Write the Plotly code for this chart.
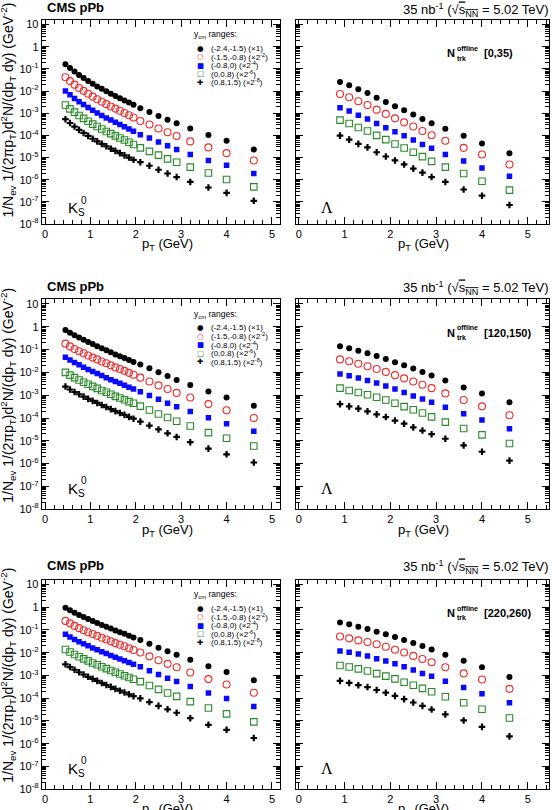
import plotly.graph_objects as go

# ---------------- data ----------------
pt_k0s = [0.45, 0.55, 0.65, 0.75, 0.85, 0.95, 1.05, 1.15, 1.25, 1.35, 1.45, 1.55, 1.65,
          1.75, 1.85, 1.95, 2.1, 2.3, 2.5, 2.7, 2.9, 3.2, 3.6, 4.0, 4.6]
pt_lam = [0.9, 1.1, 1.3, 1.5, 1.7, 1.9, 2.1, 2.3, 2.5, 2.7, 2.9, 3.2, 3.6, 4.0, 4.6]

mult_bins = ["[0,35)", "[120,150)", "[220,260)"]
rap_bins = ["(-2.4,-1.5) (×1)", "(-1.5,-0.8) (×2<sup>-2</sup>)", "(-0.8,0) (×2<sup>-4</sup>)",
            "(0,0.8) (×2<sup>-6</sup>)", "(0.8,1.5) (×2<sup>-8</sup>)"]
ytick_vals = [1e-8, 1e-7, 1e-6, 1e-5, 1e-4, 1e-3, 1e-2, 1e-1, 1, 10]
ytick_text = ["10<sup>-8</sup>", "10<sup>-7</sup>", "10<sup>-6</sup>", "10<sup>-5</sup>",
              "10<sup>-4</sup>", "10<sup>-3</sup>", "10<sup>-2</sup>", "10<sup>-1</sup>", "1", "10"]

# K0s, N_trk [0,35)
k0s_m1_y1 = [1.62e-1, 1.10e-1, 7.59e-2, 5.37e-2, 3.89e-2, 2.88e-2, 2.14e-2, 1.62e-2, 1.26e-2, 9.77e-3, 7.59e-3, 6.03e-3, 4.79e-3, 3.80e-3, 3.02e-3, 2.40e-3, 1.66e-3, 1.15e-3, 7.59e-4, 5.13e-4, 3.55e-4, 2.04e-4, 1.05e-4, 5.75e-5, 2.29e-5]
k0s_m1_y2 = [4.17e-2, 2.82e-2, 1.95e-2, 1.38e-2, 1.02e-2, 7.59e-3, 5.62e-3, 4.27e-3, 3.31e-3, 2.57e-3, 2.00e-3, 1.62e-3, 1.29e-3, 1.02e-3, 8.13e-4, 6.46e-4, 4.47e-4, 3.09e-4, 2.04e-4, 1.38e-4, 9.33e-5, 5.37e-5, 2.88e-5, 1.58e-5, 7.41e-6]
k0s_m1_y3 = [1.00e-2, 6.76e-3, 4.68e-3, 3.31e-3, 2.45e-3, 1.82e-3, 1.35e-3, 1.02e-3, 7.94e-4, 6.17e-4, 4.90e-4, 3.89e-4, 3.09e-4, 2.45e-4, 1.95e-4, 1.55e-4, 1.07e-4, 7.59e-5, 5.01e-5, 3.39e-5, 2.34e-5, 1.38e-5, 7.41e-6, 4.47e-6, 1.91e-6]
k0s_m1_y4 = [2.34e-3, 1.58e-3, 1.12e-3, 7.94e-4, 5.89e-4, 4.37e-4, 3.24e-4, 2.51e-4, 1.95e-4, 1.51e-4, 1.20e-4, 9.55e-5, 7.59e-5, 6.17e-5, 4.90e-5, 3.89e-5, 2.75e-5, 1.91e-5, 1.29e-5, 8.71e-6, 6.17e-6, 3.72e-6, 2.00e-6, 1.02e-6, 4.79e-7]
k0s_m1_y5 = [5.37e-4, 3.63e-4, 2.51e-4, 1.78e-4, 1.29e-4, 9.55e-5, 7.08e-5, 5.37e-5, 4.17e-5, 3.24e-5, 2.51e-5, 2.00e-5, 1.58e-5, 1.26e-5, 1.00e-5, 7.94e-6, 6.17e-6, 4.27e-6, 2.82e-6, 1.91e-6, 1.32e-6, 7.94e-7, 4.47e-7, 2.57e-7, 1.12e-7]

# K0s, N_trk [120,150)
k0s_m2_y1 = [7.24e-1, 5.50e-1, 4.27e-1, 3.39e-1, 2.69e-1, 2.14e-1, 1.74e-1, 1.41e-1, 1.15e-1, 9.33e-2, 7.59e-2, 6.17e-2, 5.13e-2, 4.27e-2, 3.47e-2, 2.88e-2, 2.24e-2, 1.51e-2, 1.02e-2, 6.92e-3, 4.68e-3, 2.82e-3, 1.45e-3, 7.94e-4, 3.47e-4]
k0s_m2_y2 = [1.82e-1, 1.38e-1, 1.07e-1, 8.51e-2, 6.92e-2, 5.50e-2, 4.47e-2, 3.72e-2, 3.02e-2, 2.51e-2, 2.04e-2, 1.66e-2, 1.41e-2, 1.17e-2, 9.55e-3, 7.94e-3, 5.89e-3, 3.98e-3, 2.69e-3, 1.86e-3, 1.26e-3, 7.94e-4, 4.07e-4, 2.19e-4, 1.00e-4]
k0s_m2_y3 = [4.57e-2, 3.47e-2, 2.69e-2, 2.14e-2, 1.70e-2, 1.35e-2, 1.10e-2, 8.91e-3, 7.24e-3, 5.89e-3, 4.79e-3, 3.98e-3, 3.31e-3, 2.75e-3, 2.24e-3, 1.86e-3, 1.41e-3, 9.77e-4, 6.61e-4, 4.47e-4, 3.09e-4, 1.95e-4, 1.02e-4, 5.62e-5, 2.63e-5]
k0s_m2_y4 = [1.00e-2, 7.59e-3, 5.89e-3, 4.68e-3, 3.72e-3, 3.02e-3, 2.45e-3, 2.00e-3, 1.62e-3, 1.35e-3, 1.10e-3, 8.91e-4, 7.59e-4, 6.31e-4, 5.25e-4, 4.47e-4, 3.31e-4, 2.24e-4, 1.51e-4, 1.05e-4, 7.24e-5, 4.47e-5, 2.29e-5, 1.29e-5, 5.89e-6]
k0s_m2_y5 = [2.40e-3, 1.78e-3, 1.38e-3, 1.10e-3, 8.71e-4, 6.92e-4, 5.62e-4, 4.57e-4, 3.72e-4, 3.02e-4, 2.45e-4, 2.00e-4, 1.66e-4, 1.38e-4, 1.12e-4, 9.33e-5, 6.92e-5, 4.68e-5, 3.16e-5, 2.14e-5, 1.48e-5, 8.71e-6, 4.57e-6, 2.57e-6, 1.12e-6]

# K0s, N_trk [220,260)
k0s_m3_y1 = [9.55e-1, 7.41e-1, 5.75e-1, 4.57e-1, 3.72e-1, 3.02e-1, 2.45e-1, 2.04e-1, 1.66e-1, 1.38e-1, 1.15e-1, 9.55e-2, 7.94e-2, 6.76e-2, 5.62e-2, 4.68e-2, 3.63e-2, 2.45e-2, 1.66e-2, 1.15e-2, 8.13e-3, 4.90e-3, 2.51e-3, 1.41e-3, 6.17e-4]
k0s_m3_y2 = [2.51e-1, 1.95e-1, 1.51e-1, 1.20e-1, 9.77e-2, 7.94e-2, 6.61e-2, 5.50e-2, 4.57e-2, 3.80e-2, 3.16e-2, 2.63e-2, 2.24e-2, 1.91e-2, 1.58e-2, 1.32e-2, 1.02e-2, 6.92e-3, 4.68e-3, 3.24e-3, 2.29e-3, 1.35e-3, 6.92e-4, 3.98e-4, 1.74e-4]
k0s_m3_y3 = [6.46e-2, 4.90e-2, 3.80e-2, 3.02e-2, 2.45e-2, 2.00e-2, 1.62e-2, 1.35e-2, 1.10e-2, 9.12e-3, 7.59e-3, 6.31e-3, 5.25e-3, 4.47e-3, 3.72e-3, 3.09e-3, 2.40e-3, 1.62e-3, 1.10e-3, 7.59e-4, 5.37e-4, 3.24e-4, 1.70e-4, 9.77e-5, 4.27e-5]
k0s_m3_y4 = [1.38e-2, 1.07e-2, 8.32e-3, 6.61e-3, 5.37e-3, 4.37e-3, 3.55e-3, 2.95e-3, 2.40e-3, 2.00e-3, 1.66e-3, 1.38e-3, 1.15e-3, 9.77e-4, 8.13e-4, 6.76e-4, 5.37e-4, 3.63e-4, 2.45e-4, 1.70e-4, 1.20e-4, 7.08e-5, 3.72e-5, 2.04e-5, 9.12e-6]
k0s_m3_y5 = [3.09e-3, 2.34e-3, 1.78e-3, 1.38e-3, 1.10e-3, 8.71e-4, 7.08e-4, 5.75e-4, 4.68e-4, 3.80e-4, 3.16e-4, 2.57e-4, 2.14e-4, 1.78e-4, 1.48e-4, 1.23e-4, 9.77e-5, 6.76e-5, 4.57e-5, 3.24e-5, 2.29e-5, 1.32e-5, 6.76e-6, 4.07e-6, 1.78e-6]

# Lambda, N_trk [0,35)
lam_m1_y1 = [2.57e-2, 1.82e-2, 1.20e-2, 8.13e-3, 5.01e-3, 3.24e-3, 2.04e-3, 1.35e-3, 8.71e-4, 5.50e-4, 3.55e-4, 2.00e-4, 9.77e-5, 4.37e-5, 1.58e-5]
lam_m1_y2 = [7.41e-3, 5.25e-3, 3.47e-3, 2.34e-3, 1.45e-3, 9.33e-4, 5.89e-4, 3.89e-4, 2.51e-4, 1.58e-4, 1.02e-4, 5.75e-5, 2.75e-5, 1.38e-5, 4.90e-6]
lam_m1_y3 = [1.78e-3, 1.26e-3, 8.13e-4, 5.50e-4, 3.47e-4, 2.19e-4, 1.45e-4, 9.55e-5, 6.17e-5, 3.89e-5, 2.63e-5, 1.38e-5, 6.92e-6, 3.39e-6, 1.45e-6]
lam_m1_y4 = [4.90e-4, 3.47e-4, 2.29e-4, 1.58e-4, 1.00e-4, 6.46e-5, 4.07e-5, 2.69e-5, 1.74e-5, 1.10e-5, 6.76e-6, 3.72e-6, 1.91e-6, 8.51e-7, 3.39e-7]
lam_m1_y5 = [9.77e-5, 6.46e-5, 4.17e-5, 2.88e-5, 1.74e-5, 1.12e-5, 7.41e-6, 4.90e-6, 3.16e-6, 2.09e-6, 1.32e-6, 7.94e-7, 3.63e-7, 1.91e-7, 7.24e-8]

# Lambda, N_trk [120,150)
lam_m2_y1 = [1.41e-1, 1.15e-1, 8.91e-2, 6.92e-2, 5.25e-2, 3.89e-2, 2.82e-2, 2.04e-2, 1.48e-2, 1.05e-2, 7.41e-3, 4.37e-3, 2.19e-3, 1.20e-3, 4.90e-4]
lam_m2_y2 = [3.72e-2, 3.09e-2, 2.40e-2, 1.86e-2, 1.41e-2, 1.05e-2, 7.59e-3, 5.50e-3, 3.98e-3, 2.88e-3, 2.04e-3, 1.20e-3, 6.17e-4, 3.24e-4, 1.32e-4]
lam_m2_y3 = [8.51e-3, 7.08e-3, 5.75e-3, 4.37e-3, 3.39e-3, 2.51e-3, 1.86e-3, 1.32e-3, 9.33e-4, 6.76e-4, 4.90e-4, 2.95e-4, 1.55e-4, 8.13e-5, 3.39e-5]
lam_m2_y4 = [2.04e-3, 1.62e-3, 1.32e-3, 1.05e-3, 8.13e-4, 6.17e-4, 4.47e-4, 3.16e-4, 2.29e-4, 1.66e-4, 1.12e-4, 6.61e-5, 3.47e-5, 1.82e-5, 7.59e-6]
lam_m2_y5 = [4.07e-4, 3.24e-4, 2.57e-4, 1.95e-4, 1.45e-4, 1.10e-4, 7.76e-5, 5.62e-5, 3.89e-5, 2.82e-5, 1.95e-5, 1.23e-5, 6.31e-6, 3.31e-6, 1.35e-6]

# Lambda, N_trk [220,260)
lam_m3_y1 = [2.14e-1, 1.78e-1, 1.38e-1, 1.10e-1, 8.32e-2, 6.46e-2, 4.90e-2, 3.63e-2, 2.69e-2, 1.95e-2, 1.38e-2, 8.13e-3, 4.47e-3, 2.29e-3, 8.51e-4]
lam_m3_y2 = [5.13e-2, 4.27e-2, 3.47e-2, 2.95e-2, 2.34e-2, 1.82e-2, 1.35e-2, 1.02e-2, 7.24e-3, 5.25e-3, 3.80e-3, 2.29e-3, 1.23e-3, 6.61e-4, 2.57e-4]
lam_m3_y3 = [1.20e-2, 1.05e-2, 8.71e-3, 7.08e-3, 5.37e-3, 4.27e-3, 3.24e-3, 2.40e-3, 1.74e-3, 1.23e-3, 9.12e-4, 5.50e-4, 2.95e-4, 1.55e-4, 6.31e-5]
lam_m3_y4 = [2.75e-3, 2.34e-3, 1.95e-3, 1.58e-3, 1.20e-3, 9.33e-4, 7.08e-4, 5.01e-4, 3.72e-4, 2.69e-4, 1.91e-4, 1.15e-4, 6.31e-5, 3.24e-5, 1.35e-5]
lam_m3_y5 = [5.75e-4, 4.68e-4, 3.72e-4, 3.09e-4, 2.29e-4, 1.74e-4, 1.26e-4, 9.12e-5, 6.46e-5, 4.57e-5, 3.16e-5, 1.95e-5, 1.05e-5, 5.50e-6, 2.09e-6]

k0s_rows = [[k0s_m1_y1, k0s_m1_y2, k0s_m1_y3, k0s_m1_y4, k0s_m1_y5],
            [k0s_m2_y1, k0s_m2_y2, k0s_m2_y3, k0s_m2_y4, k0s_m2_y5],
            [k0s_m3_y1, k0s_m3_y2, k0s_m3_y3, k0s_m3_y4, k0s_m3_y5]]
lam_rows = [[lam_m1_y1, lam_m1_y2, lam_m1_y3, lam_m1_y4, lam_m1_y5],
            [lam_m2_y1, lam_m2_y2, lam_m2_y3, lam_m2_y4, lam_m2_y5],
            [lam_m3_y1, lam_m3_y2, lam_m3_y3, lam_m3_y4, lam_m3_y5]]

# ---------------- layout geometry ----------------
FONT = "Liberation Sans, Arial, Helvetica, sans-serif"
W, H = 552, 810


def px(x):
    return x / W


def py(y):
    return 1 - y / H


row_top = [18.3, 300.4, 583.7]
row_bot = [224.3, 512.3, 795.0]
cms_y = [6, 287, 569.5]
lumi_y = [8, 289, 571]
particle_y = [208, 491, 774]
col_left = [41.7, 296.0]
col_right = [280.0, 549.3]
x_ranges = [[-0.073, 5.177], [-0.061, 5.47]]
y_range = [-8, 1.2]

RED = "#ee2a2a"
BLUE = "#0a0aff"
GREEN = "#2a8a2a"
marker_styles = [
    dict(symbol="circle", color="black", size=6),
    dict(symbol="circle-open", color=RED, size=7, line=dict(width=1.1, color=RED)),
    dict(symbol="square", color=BLUE, size=5.5),
    dict(symbol="square-open", color=GREEN, size=6.5, line=dict(width=1.1, color=GREEN)),
    dict(symbol="cross", color="black", size=5.5),
]
legend_glyphs = [("●", "black"), ("○", RED), ("■", BLUE), ("□", GREEN), ("✚", "black")]

fig = go.Figure()


def sfx(k):
    return "" if k == 1 else str(k)


for r in range(3):
    for c, (pts, series) in enumerate([(pt_k0s, k0s_rows[r]), (pt_lam, lam_rows[r])]):
        k = 2 * r + c + 1
        for i, yv in enumerate(series):
            fig.add_trace(go.Scatter(x=pts, y=yv, mode="markers", marker=marker_styles[i],
                                     xaxis="x" + sfx(k), yaxis="y" + sfx(k),
                                     showlegend=False, hoverinfo="skip"))

tick_font = dict(family=FONT, size=11, color="black")
minor_log = [m * 10.0 ** e for e in range(-8, 2) for m in range(2, 10)]
axes = {}
for r in range(3):
    for c in range(2):
        k = 2 * r + c + 1
        axes["xaxis" + sfx(k)] = dict(
            domain=[px(col_left[c]), px(col_right[c])], range=x_ranges[c], anchor="y" + sfx(k),
            showline=True, linecolor="black", linewidth=1, mirror="ticks",
            ticks="inside", ticklen=7, tickwidth=1, tickcolor="black",
            tickmode="linear", tick0=0, dtick=1,
            minor=dict(ticks="inside", ticklen=4, tickwidth=1, tickcolor="black",
                       tick0=0, dtick=0.2, showgrid=False),
            showgrid=False, zeroline=False, tickfont=tick_font)
        axes["yaxis" + sfx(k)] = dict(
            domain=[py(row_bot[r]), py(row_top[r])], type="log", range=y_range, anchor="x" + sfx(k),
            showline=True, linecolor="black", linewidth=1, mirror="ticks",
            ticks="inside", ticklen=7, tickwidth=1, tickcolor="black",
            tickmode="array", tickvals=ytick_vals, ticktext=ytick_text,
            showticklabels=(c == 0),
            minor=dict(ticks="inside", ticklen=4, tickwidth=1, tickcolor="black",
                       tickmode="array", tickvals=minor_log, showgrid=False),
            showgrid=False, zeroline=False, tickfont=tick_font)
    k = 2 * r + 2
    axes["yaxis" + str(7 + r)] = dict(
        overlaying="y" + sfx(k), anchor="x" + sfx(k), side="left", type="log", range=y_range,
        showline=False, ticks="outside", ticklen=8, tickwidth=1, tickcolor="black",
        tickmode="array", tickvals=ytick_vals, showticklabels=False,
        minor=dict(ticks="outside", ticklen=5, tickwidth=1, tickcolor="black",
                   tickmode="array", tickvals=minor_log, showgrid=False),
        showgrid=False, zeroline=False)

ann = []


def add_text(x, y, text, size, xanchor="center", yanchor="middle", family=FONT, color="black", angle=0):
    ann.append(dict(x=px(x), y=py(y), xref="paper", yref="paper", text=text, showarrow=False,
                    xanchor=xanchor, yanchor=yanchor, textangle=angle,
                    font=dict(family=family, size=size, color=color)))


for r in range(3):
    top, bot = row_top[r], row_bot[r]
    add_text(45, cms_y[r], "<b>CMS pPb</b>", 13, xanchor="left")
    add_text(551, lumi_y[r],
             "35 nb<sup>-1</sup> (√<span style='text-decoration:overline'>s<sub>NN</sub></span> = 5.02 TeV)",
             13, xanchor="right")
    add_text(8, bot - 4,
             "1/N<sub>ev</sub> 1/(2πp<sub>T</sub>)d<sup>2</sup>N/(dp<sub>T</sub> dy) (GeV<sup>-2</sup>)",
             14, yanchor="bottom", angle=-90)
    add_text(167, bot + 21, "p<sub>T</sub> (GeV)", 13)
    add_text(423, bot + 21, "p<sub>T</sub> (GeV)", 13)
    # legend
    add_text(191.5, top + 15, "y<sub>cm</sub> ranges:", 8.5, xanchor="left")
    for i, (g, col) in enumerate(legend_glyphs):
        yy = top + 28.5 + i * 8.6
        add_text(200, yy, g, 7.5, family="DejaVu Sans", color=col)
        add_text(208.5, yy, rap_bins[i], 8, xanchor="left")
    # multiplicity label
    add_text(450.5, top + 33.4, "<b>N</b>", 11)
    add_text(455, top + 28.4, "<b>offline</b>", 7, xanchor="left")
    add_text(455, top + 38.4, "<b>trk</b>", 7, xanchor="left")
    add_text(482, top + 33.4, "<b>" + mult_bins[r] + "</b>", 11, xanchor="left")
    # particle labels
    add_text(73, particle_y[r], "K", 15)
    add_text(83.5, particle_y[r] - 8, "0", 10)
    add_text(81.5, particle_y[r] + 5, "S", 10)
    add_text(327, particle_y[r], "Λ", 16, family="Liberation Serif, serif")

fig.update_layout(
    width=W, height=H, margin=dict(l=0, r=0, t=0, b=0, pad=0),
    paper_bgcolor="white", plot_bgcolor="white", showlegend=False,
    font=dict(family=FONT, color="black"), annotations=ann, **axes)

fig.write_html("out.html", config={"displayModeBar": False})
